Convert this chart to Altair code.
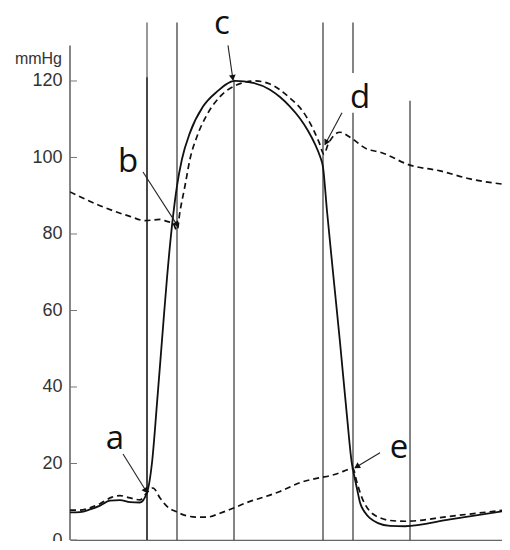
import altair as alt
import pandas as pd
import numpy as np

# ---- data (time in ms, pressure in mmHg) ----
lv_t = [0, 20, 40, 60, 80, 100, 120, 140, 154, 164, 174, 186, 194, 204, 214, 224, 240, 266, 294, 330,
        366, 400, 420, 440, 460, 476, 490, 500, 506, 514, 526, 540, 554, 564, 566, 574, 580, 590, 600, 616,
        640, 670, 760, 880]
lv_p = [7.2, 7.3, 8.0, 9.0, 10.3, 10.4, 9.9, 9.8, 12.4, 20.2, 35.7, 55.6, 68.5, 82.2, 92.6, 99.6, 106.5, 113.3, 117.2, 120.0,
        119.5, 117.7, 115.8, 113.3, 110.2, 107.0, 103.5, 100.3, 97.5, 86.0, 70.0, 51.7, 32.3, 19.8, 18.4, 13.4, 9.8, 7.2, 5.7, 4.4,
        3.7, 3.6, 5.4, 7.8]

la_t = [0, 20, 40, 60, 84, 100, 120, 140, 154, 166, 180, 194, 214, 234, 254, 274, 300, 326, 360, 380,
        420, 460, 500, 520, 540, 556, 566, 574, 584, 594, 606, 620, 640, 670, 760, 880]
la_p = [7.8, 7.8, 8.4, 9.5, 11.2, 11.6, 11.0, 10.5, 12.4, 13.6, 11.0, 8.8, 7.3, 6.3, 6.0, 6.0, 7.0, 8.3, 10.1, 10.9,
        12.7, 15.0, 16.3, 16.8, 17.6, 18.4, 18.6, 15.0, 11.0, 8.5, 6.8, 5.8, 5.1, 4.9, 6.2, 8.0]

ao_t = [0, 60, 120, 150, 180, 194, 206, 214, 220, 230, 240, 254, 274, 300, 334, 370, 400, 440, 466, 486,
        498, 508, 516, 526, 540, 560, 594, 620, 680, 740, 800, 880]
ao_p = [91.0, 87.4, 84.6, 83.5, 83.8, 83.3, 82.8, 80.9, 85.9, 92.6, 99.6, 105.5, 111.2, 115.9, 119.0, 120.0, 119.2, 115.5, 112.0, 107.5,
        104.0, 100.9, 103.4, 105.5, 106.6, 105.3, 102.2, 101.4, 98.0, 96.5, 94.4, 92.8]

# vertical event lines (segments)
vl_t =      [154, 154, 214, 328, 506, 566, 566, 680]
vl_top =    [135.3, 121.0, 135.3, 120.3, 135.3, 135.3, 111.7, 114.8]
vl_bottom = [0, 0, 0, 0, 0, 122.1, 0, 0]
vl_width =  [1.0, 1.6, 1.2, 1.2, 1.2, 1.2, 1.2, 1.2]

# point labels and arrows
lab_text = ["a", "b", "c", "d", "e"]
lab_t = [90, 116, 304, 580, 658]
lab_p = [23.8, 96.2, 132.4, 113.0, 21.5]
arr_t1 = [106, 146, 316, 544, 620]
arr_p1 = [22.5, 96.2, 129.3, 111.7, 22.8]
arr_t2 = [154, 216, 326, 510, 570]
arr_p2 = [12.4, 82.0, 120.3, 103.4, 18.9]

y_ticks = [0, 20, 40, 60, 80, 100, 120]

# ---- layout ----
W, H = 432, 521
T_MAX = 864
P_MAX = 136.2
PX_T = W / T_MAX
PX_P = H / P_MAX
xs = alt.Scale(domain=[0, T_MAX], nice=False, zero=False)
ys = alt.Scale(domain=[0, P_MAX], nice=False)

lv = pd.DataFrame({"t": lv_t, "p": lv_p})
la = pd.DataFrame({"t": la_t, "p": la_p})
ao = pd.DataFrame({"t": ao_t, "p": ao_p})
vl = pd.DataFrame({"t": vl_t, "top": vl_top, "bottom": vl_bottom, "w": vl_width})
labs = pd.DataFrame({"text": lab_text, "t": lab_t, "p": lab_p})
arr = pd.DataFrame({"t1": arr_t1, "p1": arr_p1, "t2": arr_t2, "p2": arr_p2})
dx = (arr["t2"] - arr["t1"]) * PX_T
dy = -(arr["p2"] - arr["p1"]) * PX_P
ln = np.sqrt(dx ** 2 + dy ** 2)
arr["angle"] = (np.degrees(np.arctan2(dx, -dy)) + 360) % 360
back = 3.0
arr["th"] = arr["t2"] - dx / ln * back / PX_T
arr["ph"] = arr["p2"] + dy / ln * back / PX_P
ticks = pd.DataFrame({"v": y_ticks, "x0": 0.0, "x1": 7 / PX_T})
yaxis_line = pd.DataFrame({"x0": [0.0], "a": [0.0], "b": [129.3]})

x_axis = alt.Axis(ticks=False, labels=False, grid=False, domain=True,
                  domainColor="#666", domainWidth=1.5, title=None)
y_axis = alt.Axis(values=y_ticks, ticks=False, domain=False, grid=False, title=None,
                  labelFontSize=18, labelPadding=8, labelFont="Liberation Sans",
                  labelColor="#333")


def X(f):
    return alt.X(f, scale=xs, axis=x_axis)


def Y(f):
    return alt.Y(f, scale=ys, axis=y_axis)


lv_line = alt.Chart(lv).mark_line(color="#111", strokeWidth=1.8, interpolate="monotone", clip=True).encode(
    x=X("t:Q"), y=Y("p:Q"))
la_line = alt.Chart(la).mark_line(color="#111", strokeWidth=1.7, strokeDash=[6, 4],
                                  interpolate="monotone", clip=True).encode(x=X("t:Q"), y=Y("p:Q"))
ao_line = alt.Chart(ao).mark_line(color="#111", strokeWidth=1.7, strokeDash=[6, 4],
                                  interpolate="monotone", clip=True).encode(x=X("t:Q"), y=Y("p:Q"))

vlines = alt.Chart(vl).mark_rule(color="#333").encode(
    x=X("t:Q"), y=Y("top:Q"), y2="bottom:Q",
    strokeWidth=alt.StrokeWidth("w:Q", scale=None),
)

yline = alt.Chart(yaxis_line).mark_rule(color="#444", strokeWidth=1.3).encode(
    x=X("x0:Q"), y=Y("b:Q"), y2=alt.Y2("a:Q"))
yticks = alt.Chart(ticks).mark_rule(color="#777", strokeWidth=1).encode(
    x=X("x0:Q"), x2=alt.X2("x1:Q"), y=Y("v:Q"))
unit = alt.Chart(pd.DataFrame({"u": ["mmHg"], "p": [125.8]})).mark_text(
    fontSize=16, font="Liberation Sans", color="#333", align="right", baseline="middle").encode(
    x=alt.value(-8), y=Y("p:Q"), text="u:N")

arrows = alt.Chart(arr).mark_rule(color="#222", strokeWidth=1.1).encode(
    x=X("t1:Q"), y=Y("p1:Q"), x2="t2:Q", y2="p2:Q")
heads = alt.Chart(arr).mark_point(shape="triangle", filled=True, color="#111", size=45, opacity=1).encode(
    x=X("th:Q"), y=Y("ph:Q"), angle=alt.Angle("angle:Q", scale=None))

labels = alt.Chart(labs).mark_text(fontSize=33, font="Open Sans", color="#111",
                                   align="center", baseline="alphabetic").encode(
    x=X("t:Q"), y=Y("p:Q"), text="text:N")

chart = alt.layer(vlines, yline, yticks, ao_line, la_line, lv_line, arrows, heads, labels, unit).properties(
    width=W, height=H,
    background="white",
    autosize=alt.AutoSizeParams(type="none"),
    padding={"left": 62, "top": 11, "right": 0, "bottom": 1},
).configure_view(strokeWidth=0, stroke="transparent")

chart.save("out.html", embed_options={"renderer": "svg", "actions": False})
